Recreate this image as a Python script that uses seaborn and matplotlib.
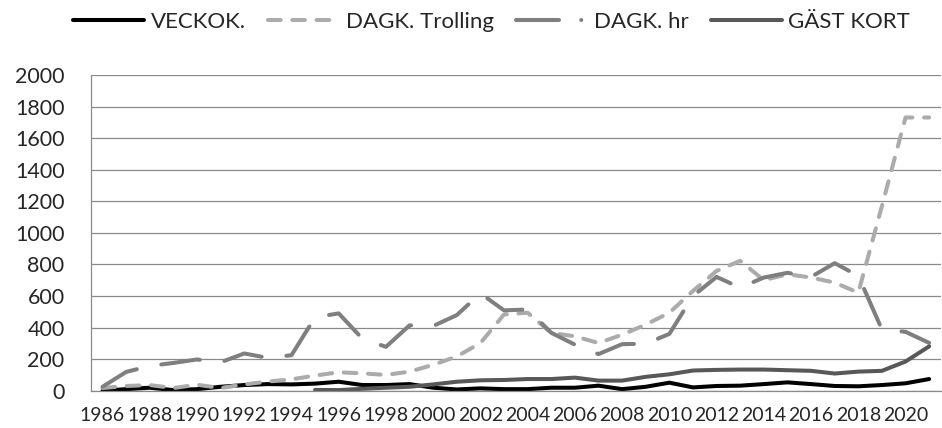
import numpy as np
import matplotlib
matplotlib.use("Agg")
import matplotlib.pyplot as plt
from matplotlib.lines import Line2D
import seaborn as sns

years = list(range(1986, 2022))

veckok = [0, 10, 19, 4, 10, 25, 36, 42, 40, 45, 57, 36,
          36, 42, 19, 8, 15, 10, 10, 19, 19, 32, 10, 25,
          51, 21, 30, 32, 42, 53, 42, 30, 28, 36, 47, 74]

dagk_trolling = [17, 30, 36, 17, 38, 17, 40, 58, 72, 96, 117, 110,
                 100, 121, 164, 217, 302, 483, 494, 366, 345, 302, 355, 419,
                 494, 632, 759, 823, 700, 738, 717, 685, 621, 1170, 1731, 1731]

dagk_hr = [25, 119, 157, 176, 198, 180, 236, 208, 225, 465, 490, 330,
           278, 414, 410, 479, 617, 509, 515, 367, 292, 232, 295, 298,
           360, 600, 721, 653, 717, 747, 721, 808, 728, 388, 373, 303]

gast_kort = [np.nan] * 9 + [5, 4, 12,
             19, 25, 40, 57, 66, 68, 74, 74, 83, 64, 64, 88,
             104, 128, 132, 134, 134, 130, 126, 109, 121, 126, 185, 281]

names = ["VECKOK.", "DAGK. Trolling", "DAGK. hr", "GÄST KORT"]
colors = ["#000000", "#ABABAB", "#7F7F7F", "#585858"]

sns.set_style("white")
plt.rcParams['font.family'] = ['Lato', 'DejaVu Sans']
plt.rcParams['lines.scale_dashes'] = False

lw = 2.9
grid_col = "#8A8A8A"
styles = [
    "-",
    (0, (9.1, 8.4)),
    (0, (28, 18)),
    "-",
]

fig = plt.figure(figsize=(9.42, 4.28), dpi=100)
ax = fig.add_axes([0.0963, 0.0871, 0.9026, 0.7376])

series = [veckok, dagk_trolling, dagk_hr, gast_kort]
for vals, name, col, ls in zip(series, names, colors, styles):
    sns.lineplot(x=years, y=vals, ax=ax, color=col, linewidth=lw,
                 linestyle=ls, dash_capstyle="round", solid_capstyle="round",
                 solid_joinstyle="round", dash_joinstyle="round")

ax.set_xlim(1985.5, 2021.5)
ax.set_ylim(0, 2000)
ax.set_yticks(range(0, 2001, 200))
ax.set_xticks(range(1986, 2021, 2))
ax.set_xticks(np.arange(1985.5, 2022, 1), minor=True)
ax.tick_params(axis="x", which="major", length=0, pad=12, labelsize=14)
ax.tick_params(axis="x", which="minor", length=4.5, width=0.9,
               color=grid_col, direction="out")
ax.tick_params(axis="y", length=5.8, width=0.9, color=grid_col,
               direction="out", pad=13, labelsize=15.5)
ax.yaxis.grid(True, color=grid_col, linewidth=0.9)
ax.set_axisbelow(True)
for s in ["top", "right"]:
    ax.spines[s].set_visible(False)
for s in ["left", "bottom"]:
    ax.spines[s].set_color(grid_col)
    ax.spines[s].set_linewidth(0.9)
ax.set_xlabel("")
ax.set_ylabel("")

handles = [
    Line2D([], [], color=colors[0], linewidth=lw, solid_capstyle="round"),
    Line2D([], [], color=colors[1], linewidth=lw, linestyle=styles[1],
           dash_capstyle="round"),
    Line2D([], [], color=colors[2], linewidth=lw,
           linestyle=(0, (31, 16, 0.01, 40)), dash_capstyle="round"),
    Line2D([], [], color=colors[3], linewidth=lw, solid_capstyle="round"),
]
fig.legend(handles, names, loc="center", bbox_to_anchor=(0.5218, 0.9486),
           ncol=4, frameon=False, fontsize=16, handlelength=3.2,
           handletextpad=0.3, columnspacing=1.0)

fig.savefig("out.png", dpi=100)
